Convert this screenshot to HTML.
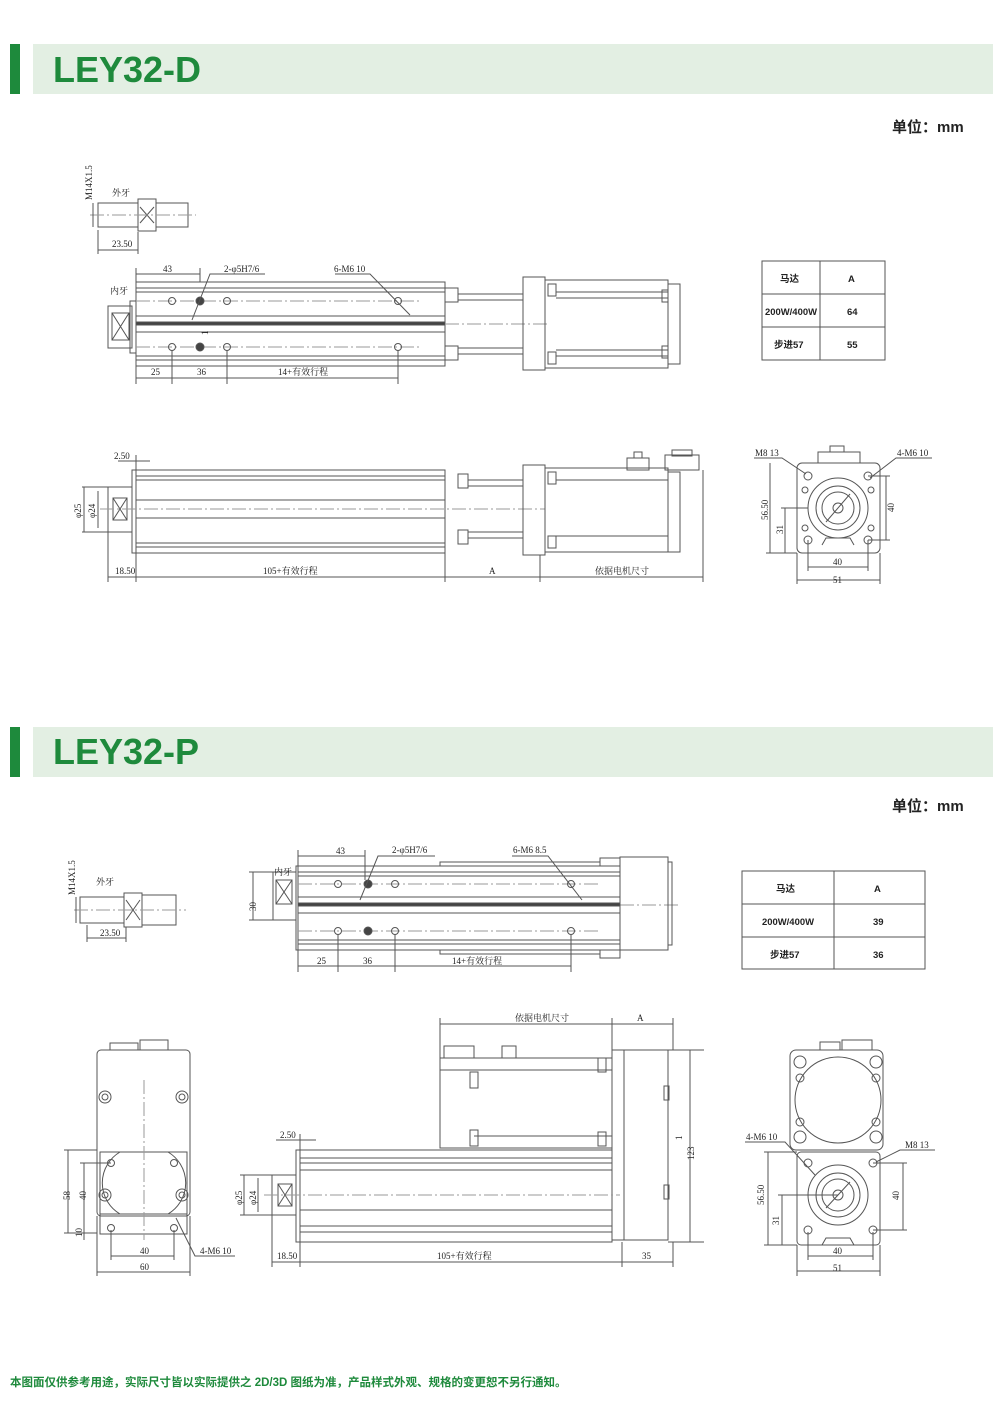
<!DOCTYPE html>
<html><head><meta charset="utf-8"><style>
html,body{margin:0;padding:0;background:#fff;}
svg{display:block}
.t{font-family:"Liberation Serif","Noto Serif CJK SC",serif;font-size:9px;fill:#222}
.h{font-family:"Liberation Sans","Noto Sans CJK SC",sans-serif;font-weight:bold;fill:#1e8a3c;font-size:36px}
.u{font-family:"Liberation Sans","Noto Sans CJK SC",sans-serif;font-weight:bold;font-size:15px;fill:#222}
.tb{font-family:"Liberation Sans","Noto Sans CJK SC",sans-serif;font-weight:bold;font-size:9.5px;fill:#222}
g.d *{fill:none;stroke:#555;stroke-width:1}
g.d text{fill:#222;stroke:none}
.c{stroke:#999!important;stroke-dasharray:14 3 2 3}
.k{fill:#444!important}
</style></head><body>
<svg width="1000" height="1413" viewBox="0 0 1000 1413" xmlns="http://www.w3.org/2000/svg">
<rect x="10" y="44" width="10" height="50" fill="#1e8a3c"/>
<rect x="33" y="44" width="960" height="50" fill="#e3efe3"/>
<text x="53" y="82" class="h">LEY32-D</text>
<rect x="10" y="727" width="10" height="50" fill="#1e8a3c"/>
<rect x="33" y="727" width="960" height="50" fill="#e3efe3"/>
<text x="53" y="764" class="h">LEY32-P</text>
<text x="892" y="132" class="u">单位：mm</text>
<text x="892" y="811" class="u">单位：mm</text>
<text x="10" y="1386" font-family="Liberation Sans,Noto Sans CJK SC,sans-serif" font-weight="bold" font-size="11.5" fill="#1e8a3c">本图面仅供参考用途，实际尺寸皆以实际提供之 2D/3D 图纸为准，产品样式外观、规格的变更恕不另行通知。</text>

<g class="d">
<rect x="98" y="203" width="40" height="24"/><rect x="138" y="199" width="18" height="32"/>
<path d="M140 207 L154 223 M154 207 L140 223"/><rect x="156" y="203" width="32" height="24"/>
<line x1="90" y1="215" x2="196" y2="215" class="c"/>
<text x="0" y="0" class="t" transform="translate(92,200) rotate(-90)">M14X1.5</text>
<line x1="93" y1="203" x2="93" y2="227"/>
<text x="112" y="196" class="t">外牙</text>
<line x1="98" y1="250" x2="138" y2="250"/><line x1="98" y1="230" x2="98" y2="254"/><line x1="138" y1="232" x2="138" y2="254"/>
<text x="112" y="247" class="t">23.50</text>

<rect x="108" y="306" width="24" height="42"/><rect x="112" y="313" width="17" height="27"/>
<path d="M112 313 L129 340 M129 313 L112 340"/><rect x="130" y="301" width="6" height="52"/>
<rect x="136" y="282" width="309" height="84"/>
<line x1="136" y1="288" x2="445" y2="288"/><line x1="136" y1="292" x2="445" y2="292"/>
<line x1="136" y1="316" x2="445" y2="316"/><line x1="136" y1="332" x2="445" y2="332"/>
<rect x="136" y="322" width="309" height="3" class="k"/>
<line x1="136" y1="356" x2="445" y2="356"/><line x1="136" y1="360" x2="445" y2="360"/>
<line x1="445" y1="324" x2="550" y2="324" class="c"/>
<line x1="136" y1="301" x2="420" y2="301" class="c"/><line x1="136" y1="347" x2="420" y2="347" class="c"/>
<circle cx="172" cy="301" r="3.5"/><circle cx="227" cy="301" r="3.5"/><circle cx="398" cy="301" r="3.5"/>
<circle cx="172" cy="347" r="3.5"/><circle cx="227" cy="347" r="3.5"/><circle cx="398" cy="347" r="3.5"/>
<circle cx="200" cy="301" r="4" class="k"/><circle cx="200" cy="347" r="4" class="k"/>
<rect x="445" y="288" width="13" height="14"/><rect x="445" y="346" width="13" height="14"/>
<line x1="458" y1="294" x2="523" y2="294"/><line x1="458" y1="300" x2="523" y2="300"/>
<line x1="458" y1="348" x2="523" y2="348"/><line x1="458" y1="354" x2="523" y2="354"/>
<rect x="523" y="277" width="22" height="93"/><rect x="545" y="280" width="123" height="88"/>
<rect x="548" y="284" width="8" height="12"/><rect x="548" y="352" width="8" height="12"/>
<line x1="556" y1="292" x2="668" y2="292"/><line x1="556" y1="298" x2="668" y2="298"/>
<line x1="556" y1="350" x2="668" y2="350"/><line x1="556" y1="356" x2="668" y2="356"/>
<rect x="662" y="290" width="6" height="12"/><rect x="662" y="346" width="6" height="12"/>
<rect x="668" y="284" width="12" height="80"/>
<text x="110" y="294" class="t">内牙</text>
<line x1="136" y1="274" x2="200" y2="274"/><line x1="136" y1="268" x2="136" y2="282"/><line x1="200" y1="268" x2="200" y2="282"/>
<text x="163" y="272" class="t">43</text>
<path d="M192 320 L210 274 L265 274"/><text x="224" y="272" class="t">2-φ5H7/6</text>
<path d="M335 274 L370 274 L410 315"/><text x="334" y="272" class="t">6-M6 10</text>
<line x1="136" y1="378" x2="398" y2="378"/>
<line x1="136" y1="366" x2="136" y2="384"/><line x1="172" y1="350" x2="172" y2="384"/><line x1="227" y1="350" x2="227" y2="384"/><line x1="398" y1="350" x2="398" y2="384"/>
<text x="151" y="375" class="t">25</text><text x="197" y="375" class="t">36</text><text x="278" y="375" class="t">14+有效行程</text>
<text x="0" y="0" class="t" transform="translate(208,335) rotate(-90)">1</text>

<rect x="762" y="261" width="123" height="99"/>
<line x1="820" y1="261" x2="820" y2="360"/><line x1="762" y1="294" x2="885" y2="294"/><line x1="762" y1="327" x2="885" y2="327"/>
<text x="780" y="282" class="tb">马达</text><text x="848" y="282" class="tb">A</text>
<text x="765" y="315" class="tb" textLength="52" lengthAdjust="spacingAndGlyphs">200W/400W</text><text x="847" y="315" class="tb">64</text>
<text x="774" y="348" class="tb">步进57</text><text x="847" y="348" class="tb">55</text>

<rect x="108" y="487" width="24" height="45"/><rect x="113" y="498" width="14" height="22"/>
<path d="M113 498 L127 520 M127 498 L113 520"/><rect x="132" y="470" width="4" height="83"/>
<rect x="136" y="470" width="309" height="83"/>
<line x1="136" y1="476" x2="445" y2="476"/><line x1="136" y1="480" x2="445" y2="480"/>
<line x1="136" y1="500" x2="445" y2="500"/><line x1="136" y1="518" x2="445" y2="518"/>
<line x1="136" y1="543" x2="445" y2="543"/><line x1="136" y1="547" x2="445" y2="547"/>
<line x1="100" y1="509" x2="545" y2="509" class="c"/>
<rect x="458" y="474" width="10" height="14"/><rect x="458" y="530" width="10" height="14"/>
<line x1="468" y1="480" x2="523" y2="480"/><line x1="468" y1="486" x2="523" y2="486"/>
<line x1="468" y1="532" x2="523" y2="532"/><line x1="468" y1="538" x2="523" y2="538"/>
<rect x="523" y="465" width="22" height="90"/><rect x="545" y="468" width="123" height="84"/>
<rect x="548" y="472" width="8" height="12"/><rect x="548" y="536" width="8" height="12"/>
<line x1="556" y1="480" x2="668" y2="480"/><line x1="556" y1="536" x2="668" y2="536"/>
<rect x="668" y="472" width="12" height="80"/>
<rect x="627" y="458" width="22" height="12"/><rect x="634" y="452" width="8" height="6"/>
<rect x="665" y="455" width="34" height="15"/><rect x="672" y="450" width="20" height="6"/>
<line x1="118" y1="461" x2="150" y2="461"/><text x="114" y="459" class="t">2.50</text>
<line x1="136" y1="455" x2="136" y2="470"/>
<line x1="82" y1="487" x2="108" y2="487"/><line x1="82" y1="532" x2="108" y2="532"/>
<line x1="84" y1="487" x2="84" y2="532"/><line x1="98" y1="491" x2="98" y2="528"/>
<text x="0" y="0" class="t" transform="translate(81,518) rotate(-90)">φ25</text>
<text x="0" y="0" class="t" transform="translate(95,518) rotate(-90)">φ24</text>
<line x1="108" y1="577" x2="703" y2="577"/>
<line x1="108" y1="532" x2="108" y2="582"/><line x1="136" y1="553" x2="136" y2="582"/><line x1="445" y1="553" x2="445" y2="582"/><line x1="540" y1="555" x2="540" y2="582"/><line x1="703" y1="470" x2="703" y2="582"/>
<text x="115" y="574" class="t">18.50</text><text x="263" y="574" class="t">105+有效行程</text><text x="489" y="574" class="t">A</text><text x="595" y="574" class="t">依据电机尺寸</text>

<rect x="797" y="463" width="83" height="90" rx="5"/>
<rect x="818" y="452" width="42" height="11"/><rect x="830" y="446" width="14" height="6"/>
<circle cx="838" cy="508" r="30"/><circle cx="838" cy="508" r="22"/><circle cx="838" cy="508" r="16"/><circle cx="838" cy="508" r="5"/>
<circle cx="808" cy="476" r="4"/><circle cx="868" cy="476" r="4"/><circle cx="808" cy="540" r="4"/><circle cx="868" cy="540" r="4"/>
<circle cx="805" cy="490" r="3"/><circle cx="871" cy="490" r="3"/><circle cx="805" cy="528" r="3"/><circle cx="871" cy="528" r="3"/>
<path d="M822 545 L826 538 L850 538 L854 545"/>
<line x1="826" y1="522" x2="850" y2="494"/>
<line x1="808" y1="567" x2="868" y2="567"/><line x1="797" y1="580" x2="880" y2="580"/>
<line x1="808" y1="540" x2="808" y2="571"/><line x1="868" y1="540" x2="868" y2="571"/><line x1="797" y1="553" x2="797" y2="584"/><line x1="880" y1="553" x2="880" y2="584"/>
<text x="833" y="565" class="t">40</text><text x="833" y="583" class="t">51</text>
<line x1="770" y1="463" x2="770" y2="553"/><line x1="785" y1="508" x2="785" y2="553"/><line x1="886" y1="476" x2="886" y2="540"/>
<line x1="766" y1="553" x2="797" y2="553"/><line x1="781" y1="508" x2="808" y2="508"/><line x1="868" y1="476" x2="890" y2="476"/><line x1="868" y1="540" x2="890" y2="540"/>
<text x="0" y="0" class="t" transform="translate(768,520) rotate(-90)">56.50</text>
<text x="0" y="0" class="t" transform="translate(783,534) rotate(-90)">31</text>
<text x="0" y="0" class="t" transform="translate(894,512) rotate(-90)">40</text>
<path d="M754 458 L782 458 L806 474"/><text x="755" y="456" class="t">M8 13</text>
<path d="M932 458 L896 458 L870 478"/><text x="897" y="456" class="t">4-M6 10</text>

<rect x="80" y="897" width="44" height="26"/><rect x="124" y="893" width="18" height="34"/>
<path d="M126 900 L140 920 M140 900 L126 920"/><rect x="142" y="895" width="34" height="30"/>
<line x1="74" y1="910" x2="186" y2="910" class="c"/>
<text x="0" y="0" class="t" transform="translate(75,895) rotate(-90)">M14X1.5</text>
<line x1="76" y1="897" x2="76" y2="923"/>
<text x="96" y="885" class="t">外牙</text>
<line x1="87" y1="938" x2="126" y2="938"/><line x1="87" y1="925" x2="87" y2="942"/><line x1="126" y1="927" x2="126" y2="942"/>
<text x="100" y="936" class="t">23.50</text>

<rect x="273" y="872" width="23" height="48"/><rect x="276" y="880" width="16" height="24"/>
<path d="M276 880 L292 904 M292 880 L276 904"/>
<rect x="296" y="866" width="2" height="84"/>
<rect x="298" y="866" width="322" height="84"/>
<line x1="298" y1="872" x2="620" y2="872"/><line x1="298" y1="876" x2="620" y2="876"/>
<line x1="298" y1="897" x2="620" y2="897"/><line x1="298" y1="913" x2="620" y2="913"/>
<rect x="298" y="903" width="322" height="3" class="k"/>
<line x1="298" y1="940" x2="620" y2="940"/><line x1="298" y1="944" x2="620" y2="944"/>
<line x1="620" y1="905" x2="680" y2="905" class="c"/>
<line x1="298" y1="884" x2="600" y2="884" class="c"/><line x1="298" y1="931" x2="600" y2="931" class="c"/>
<circle cx="338" cy="884" r="3.5"/><circle cx="395" cy="884" r="3.5"/><circle cx="571" cy="884" r="3.5"/>
<circle cx="338" cy="931" r="3.5"/><circle cx="395" cy="931" r="3.5"/><circle cx="571" cy="931" r="3.5"/>
<circle cx="368" cy="884" r="4" class="k"/><circle cx="368" cy="931" r="4" class="k"/>
<rect x="440" y="862" width="160" height="4"/><rect x="600" y="858" width="20" height="8"/>
<rect x="440" y="950" width="160" height="4"/><rect x="600" y="950" width="20" height="8"/>
<rect x="620" y="857" width="48" height="93"/><rect x="668" y="862" width="4" height="83"/>
<text x="274" y="875" class="t">内牙</text>
<line x1="253" y1="872" x2="253" y2="920"/><line x1="249" y1="872" x2="273" y2="872"/><line x1="249" y1="920" x2="273" y2="920"/>
<text x="0" y="0" class="t" transform="translate(256,911) rotate(-90)">30</text>
<line x1="298" y1="856" x2="365" y2="856"/><line x1="298" y1="850" x2="298" y2="866"/><line x1="365" y1="850" x2="365" y2="880"/>
<text x="336" y="854" class="t">43</text>
<path d="M360 900 L378 856 L435 856"/><text x="392" y="853" class="t">2-φ5H7/6</text>
<path d="M512 856 L548 856 L582 900"/><text x="513" y="853" class="t">6-M6 8.5</text>
<line x1="298" y1="966" x2="571" y2="966"/>
<line x1="298" y1="950" x2="298" y2="972"/><line x1="338" y1="934" x2="338" y2="972"/><line x1="395" y1="934" x2="395" y2="972"/><line x1="571" y1="934" x2="571" y2="972"/>
<text x="317" y="964" class="t">25</text><text x="363" y="964" class="t">36</text><text x="452" y="964" class="t">14+有效行程</text>

<rect x="742" y="871" width="183" height="98"/>
<line x1="834" y1="871" x2="834" y2="969"/><line x1="742" y1="904" x2="925" y2="904"/><line x1="742" y1="937" x2="925" y2="937"/>
<text x="776" y="892" class="tb">马达</text><text x="874" y="892" class="tb">A</text>
<text x="762" y="925" class="tb" textLength="52" lengthAdjust="spacingAndGlyphs">200W/400W</text><text x="873" y="925" class="tb">39</text>
<text x="770" y="958" class="tb">步进57</text><text x="873" y="958" class="tb">36</text>

<rect x="97" y="1050" width="93" height="166" rx="4"/>
<rect x="110" y="1043" width="28" height="7"/><rect x="140" y="1040" width="28" height="10"/>
<circle cx="105" cy="1097" r="6"/><circle cx="105" cy="1097" r="3"/><circle cx="182" cy="1097" r="6"/><circle cx="182" cy="1097" r="3"/>
<circle cx="105" cy="1195" r="6"/><circle cx="105" cy="1195" r="3"/><circle cx="182" cy="1195" r="6"/><circle cx="182" cy="1195" r="3"/>
<rect x="100" y="1152" width="87" height="62"/>
<path d="M120 1152 A36 36 0 0 0 120 1214 M168 1152 A36 36 0 0 1 168 1214"/>
<circle cx="111" cy="1163" r="3.5"/><circle cx="174" cy="1163" r="3.5"/><circle cx="111" cy="1228" r="3.5"/><circle cx="174" cy="1228" r="3.5"/>
<rect x="100" y="1214" width="87" height="20"/>
<line x1="144" y1="1080" x2="144" y2="1240" class="c"/>
<line x1="68" y1="1150" x2="68" y2="1233"/><line x1="84" y1="1163" x2="84" y2="1228"/><line x1="84" y1="1228" x2="84" y2="1240"/>
<line x1="64" y1="1150" x2="97" y2="1150"/><line x1="64" y1="1233" x2="97" y2="1233"/><line x1="80" y1="1163" x2="111" y2="1163"/>
<text x="0" y="0" class="t" transform="translate(70,1200) rotate(-90)">58</text>
<text x="0" y="0" class="t" transform="translate(86,1200) rotate(-90)">40</text>
<text x="0" y="0" class="t" transform="translate(82,1237) rotate(-90)">10</text>
<line x1="111" y1="1256" x2="174" y2="1256"/><line x1="97" y1="1272" x2="190" y2="1272"/>
<line x1="111" y1="1230" x2="111" y2="1260"/><line x1="174" y1="1230" x2="174" y2="1260"/><line x1="97" y1="1216" x2="97" y2="1276"/><line x1="190" y1="1216" x2="190" y2="1276"/>
<text x="140" y="1254" class="t">40</text><text x="140" y="1270" class="t">60</text>
<path d="M176 1218 L195 1256 L235 1256"/><text x="200" y="1254" class="t">4-M6 10</text>

<rect x="440" y="1058" width="172" height="90"/>
<rect x="444" y="1046" width="30" height="12"/><rect x="502" y="1046" width="14" height="12"/>
<line x1="440" y1="1070" x2="612" y2="1070"/><line x1="474" y1="1136" x2="612" y2="1136"/>
<rect x="470" y="1072" width="8" height="16"/><rect x="470" y="1130" width="8" height="16"/>
<rect x="598" y="1058" width="8" height="14"/><rect x="598" y="1132" width="8" height="14"/>
<rect x="612" y="1050" width="56" height="190"/><rect x="612" y="1050" width="12" height="190"/>
<rect x="664" y="1086" width="5" height="14"/><rect x="664" y="1185" width="5" height="14"/>
<rect x="272" y="1175" width="24" height="40"/><rect x="278" y="1184" width="14" height="22"/>
<path d="M278 1184 L292 1206 M292 1184 L278 1206"/>
<rect x="296" y="1150" width="4" height="92"/>
<rect x="300" y="1150" width="312" height="92"/>
<line x1="300" y1="1158" x2="612" y2="1158"/><line x1="300" y1="1163" x2="612" y2="1163"/>
<line x1="300" y1="1170" x2="612" y2="1170"/><line x1="300" y1="1210" x2="612" y2="1210"/>
<line x1="300" y1="1226" x2="612" y2="1226"/><line x1="300" y1="1232" x2="612" y2="1232"/>
<line x1="264" y1="1195" x2="620" y2="1195" class="c"/>
<line x1="440" y1="1024" x2="673" y2="1024"/><line x1="440" y1="1018" x2="440" y2="1058"/><line x1="612" y1="1018" x2="612" y2="1050"/><line x1="673" y1="1018" x2="673" y2="1050"/>
<text x="515" y="1021" class="t">依据电机尺寸</text><text x="637" y="1021" class="t">A</text>
<line x1="690" y1="1050" x2="690" y2="1242"/><line x1="668" y1="1050" x2="704" y2="1050"/><line x1="668" y1="1242" x2="704" y2="1242"/>
<text x="0" y="0" class="t" transform="translate(694,1160) rotate(-90)">123</text>
<text x="0" y="0" class="t" transform="translate(682,1140) rotate(-90)">1</text>
<line x1="276" y1="1140" x2="316" y2="1140"/><text x="280" y="1138" class="t">2.50</text><line x1="300" y1="1134" x2="300" y2="1150"/>
<line x1="240" y1="1175" x2="272" y2="1175"/><line x1="240" y1="1215" x2="272" y2="1215"/>
<line x1="244" y1="1175" x2="244" y2="1215"/><line x1="258" y1="1178" x2="258" y2="1212"/>
<text x="0" y="0" class="t" transform="translate(242,1205) rotate(-90)">φ25</text>
<text x="0" y="0" class="t" transform="translate(256,1205) rotate(-90)">φ24</text>
<line x1="272" y1="1262" x2="673" y2="1262"/>
<line x1="272" y1="1215" x2="272" y2="1267"/><line x1="300" y1="1242" x2="300" y2="1267"/><line x1="622" y1="1242" x2="622" y2="1267"/><line x1="673" y1="1242" x2="673" y2="1267"/>
<text x="277" y="1259" class="t">18.50</text><text x="437" y="1259" class="t">105+有效行程</text><text x="642" y="1259" class="t">35</text>

<rect x="790" y="1050" width="93" height="100" rx="6"/>
<rect x="820" y="1042" width="20" height="8"/><rect x="842" y="1040" width="30" height="10"/>
<circle cx="838" cy="1100" r="43"/>
<circle cx="800" cy="1062" r="6"/><circle cx="876" cy="1062" r="6"/><circle cx="800" cy="1137" r="6"/><circle cx="876" cy="1137" r="6"/>
<circle cx="800" cy="1078" r="4"/><circle cx="876" cy="1078" r="4"/><circle cx="800" cy="1122" r="4"/><circle cx="876" cy="1122" r="4"/>
<rect x="797" y="1152" width="83" height="93" rx="4"/>
<circle cx="838" cy="1195" r="30"/><circle cx="838" cy="1195" r="22"/><circle cx="838" cy="1195" r="16"/><circle cx="838" cy="1195" r="5"/>
<circle cx="808" cy="1163" r="4"/><circle cx="873" cy="1163" r="4"/><circle cx="808" cy="1230" r="4"/><circle cx="873" cy="1230" r="4"/>
<path d="M822 1245 L826 1238 L850 1238 L854 1245"/>
<line x1="826" y1="1208" x2="850" y2="1182"/>
<line x1="808" y1="1256" x2="873" y2="1256"/><line x1="797" y1="1271" x2="880" y2="1271"/>
<line x1="808" y1="1232" x2="808" y2="1260"/><line x1="873" y1="1232" x2="873" y2="1260"/><line x1="797" y1="1245" x2="797" y2="1276"/><line x1="880" y1="1245" x2="880" y2="1276"/>
<text x="833" y="1254" class="t">40</text><text x="833" y="1271" class="t">51</text>
<line x1="768" y1="1152" x2="768" y2="1245"/><line x1="782" y1="1195" x2="782" y2="1245"/><line x1="903" y1="1163" x2="903" y2="1230"/>
<line x1="764" y1="1152" x2="797" y2="1152"/><line x1="764" y1="1245" x2="797" y2="1245"/><line x1="778" y1="1195" x2="838" y2="1195"/>
<line x1="873" y1="1163" x2="907" y2="1163"/><line x1="873" y1="1230" x2="907" y2="1230"/>
<text x="0" y="0" class="t" transform="translate(764,1205) rotate(-90)">56.50</text>
<text x="0" y="0" class="t" transform="translate(779,1225) rotate(-90)">31</text>
<text x="0" y="0" class="t" transform="translate(899,1200) rotate(-90)">40</text>
<path d="M745 1142 L785 1142 L815 1175"/><text x="746" y="1140" class="t">4-M6 10</text>
<path d="M935 1150 L900 1150 L876 1162"/><text x="905" y="1148" class="t">M8 13</text>
</g>
</svg>
</body></html>
